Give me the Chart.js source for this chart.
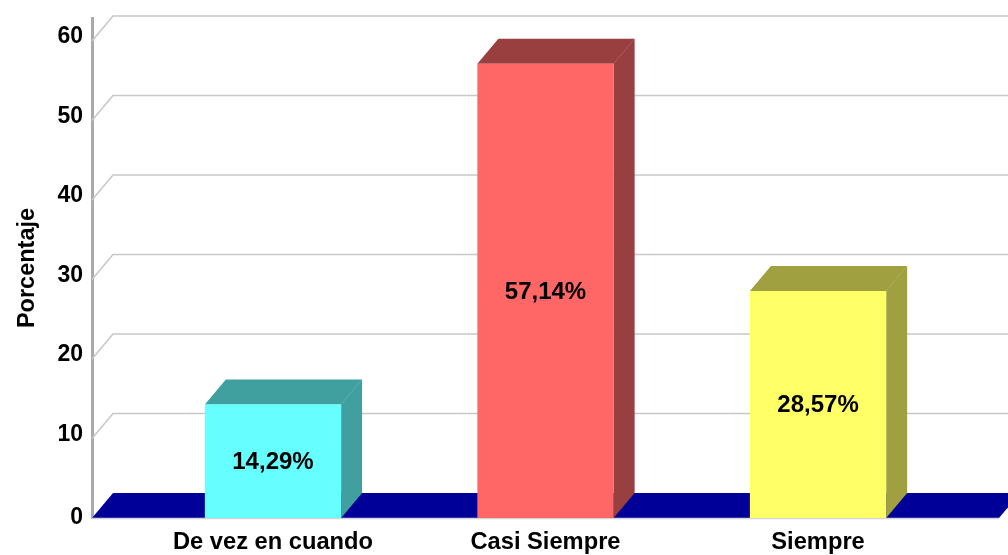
<!DOCTYPE html>
<html><head><meta charset="utf-8">
<style>html,body{margin:0;padding:0;background:#fff}#w{width:1008px;height:555px}</style>
<script src="https://cdn.jsdelivr.net/npm/chart.js@4"></script></head>
<body><div id="w"><canvas id="c"></canvas></div>
<script>
const categories = ["De vez en cuando", "Casi Siempre", "Siempre"];
const percentages = [14.29, 57.14, 28.57];
const frontColors = ["#66FFFF", "#FF6666", "#FFFF66"];
const sideColors = ["#40A0A0", "#993F3F", "#A0A040"];
const yTicks = [0, 10, 20, 30, 40, 50, 60];
const DX = 21, DY = -25;
const FONT = '"Liberation Sans", Arial, sans-serif';

const threeD = {
  id: 'threeD',
  beforeDraw(chart) {
    const items = chart.scales.y.getLabelItems();
    if (!items.shifted) {
      items.forEach(it => { it.textOffset += it.label === '0' ? 0 : -4; });
      items.shifted = true;
    }
  },
  beforeDatasetsDraw(chart) {
    const {ctx, chartArea: a, scales: {y}} = chart;
    ctx.save();
    ctx.strokeStyle = '#c8c8c8'; ctx.lineWidth = 1.6;
    yTicks.slice(1).forEach(t => {
      const p = y.getPixelForValue(t);
      ctx.beginPath();
      ctx.moveTo(a.left, p); ctx.lineTo(a.left + DX, p + DY); ctx.lineTo(1008, p + DY);
      ctx.stroke();
    });
    const b = y.getPixelForValue(0);
    ctx.fillStyle = '#000099';
    ctx.beginPath();
    ctx.moveTo(a.left, b); ctx.lineTo(a.left + DX, b + DY);
    ctx.lineTo(a.right + DX, b + DY); ctx.lineTo(a.right, b);
    ctx.closePath(); ctx.fill();
    ctx.strokeStyle = '#d4d4d4'; ctx.lineWidth = 1.5;
    ctx.beginPath(); ctx.moveTo(a.left, b + 0.5); ctx.lineTo(a.right, b + 0.5); ctx.stroke();
    chart.getDatasetMeta(0).data.forEach((bar, i) => {
      const l = bar.x - bar.width / 2, r = bar.x + bar.width / 2;
      ctx.fillStyle = sideColors[i];
      ctx.beginPath();
      ctx.moveTo(l, bar.y); ctx.lineTo(l + DX, bar.y + DY); ctx.lineTo(r + DX, bar.y + DY);
      ctx.lineTo(r + DX, bar.base + DY); ctx.lineTo(r, bar.base); ctx.lineTo(r, bar.y);
      ctx.closePath(); ctx.fill();
      ctx.strokeStyle = 'rgba(255,255,255,0.14)'; ctx.lineWidth = 1;
      ctx.beginPath(); ctx.moveTo(r, bar.y); ctx.lineTo(r + DX, bar.y + DY); ctx.stroke();
    });
    ctx.restore();
  },
  afterDatasetsDraw(chart) {
    const {ctx} = chart;
    ctx.save();
    ctx.fillStyle = '#000';
    ctx.font = 'bold 24px ' + FONT;
    ctx.textAlign = 'center'; ctx.textBaseline = 'middle';
    chart.getDatasetMeta(0).data.forEach((bar, i) => {
      ctx.fillText(percentages[i].toFixed(2).replace('.', ',') + '%', bar.x, (bar.y + bar.base) / 2 + 1);
    });
    ctx.restore();
  }
};

new Chart(document.getElementById('c'), {
  type: 'bar',
  data: { datasets: [{
    data: percentages.map((v, i) => ({x: i, y: v})),
    backgroundColor: frontColors,
    borderWidth: 0,
    barPercentage: 0.5, categoryPercentage: 1
  }]},
  options: {
    responsive: true, maintainAspectRatio: false, animation: false,
    layout: {padding: {top: 18, right: 9, left: 0, bottom: 0}},
    plugins: {legend: {display: false}, tooltip: {enabled: false}},
    scales: {
      x: {
        type: 'linear', offset: false, min: -0.664, max: 2.664,
        grid: {display: false}, border: {display: false},
        afterBuildTicks(s) { s.ticks = categories.map((_, i) => ({value: i})); },
        afterFit(s) { s.height = 37; },
        ticks: {
          autoSkip: false, maxRotation: 0, padding: 2, color: '#000',
          font: {family: FONT, size: 23.7, weight: 'bold'},
          callback: v => categories[v]
        }
      },
      y: {
        min: 0, max: 62.9,
        grid: {display: false},
        border: {display: true, color: '#aaaaaa', width: 3},
        afterBuildTicks(s) { s.ticks = yTicks.map(v => ({value: v})); },
        afterFit(s) { s.width = 92; },
        title: {display: true, text: 'Porcentaje', color: '#000', padding: {top: 13, bottom: 0},
          font: {family: FONT, size: 23.5, weight: 'bold'}},
        ticks: {padding: 1, color: '#000', font: {family: FONT, size: 23, weight: 'bold'}}
      }
    }
  },
  plugins: [threeD]
});
</script></body></html>
